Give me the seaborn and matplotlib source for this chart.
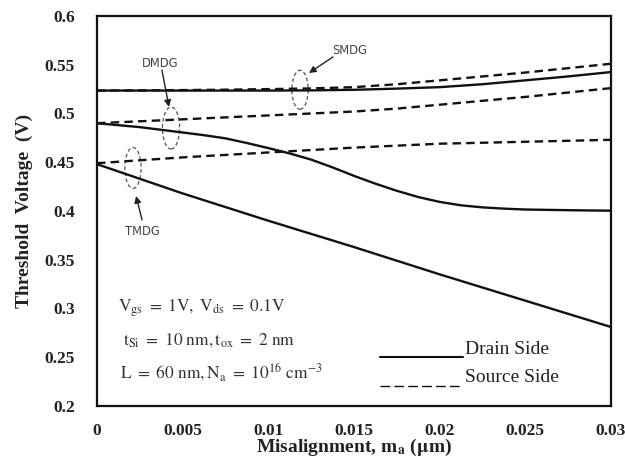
import numpy as np
import pandas as pd
import matplotlib
matplotlib.use("Agg")
import matplotlib.pyplot as plt
from matplotlib.patches import Ellipse
from matplotlib.lines import Line2D
import seaborn as sns

# Misalignment (um) sample points
ma_coarse = [0.0, 0.0025, 0.005, 0.0075, 0.01, 0.0125, 0.015,
             0.0175, 0.02, 0.0225, 0.025, 0.0275, 0.03]
ma_fine = [0.0, 0.0025, 0.005, 0.00625, 0.0075, 0.00875, 0.01, 0.01125, 0.0125,
           0.01375, 0.015, 0.01625, 0.0175, 0.01875, 0.02, 0.02125,
           0.0225, 0.02375, 0.025, 0.0275, 0.03]

# Threshold voltage (V) for each device, drain-side and source-side misalignment
smdg_drain = [0.5235, 0.5235, 0.5235, 0.5235, 0.5235, 0.5237, 0.5243,
              0.5255, 0.527, 0.530, 0.534, 0.538, 0.5425]
smdg_source = [0.5235, 0.5237, 0.524, 0.5244, 0.525, 0.5257, 0.527,
               0.530, 0.534, 0.538, 0.542, 0.5465, 0.551]
dmdg_drain = [0.490, 0.486, 0.4805, 0.4777, 0.4745, 0.4697, 0.4645, 0.4590, 0.4527,
              0.4447, 0.436, 0.428, 0.4207, 0.4143, 0.4093, 0.4058,
              0.4037, 0.4024, 0.4015, 0.4008, 0.4003]
dmdg_source = [0.490, 0.492, 0.494, 0.496, 0.498, 0.500, 0.502,
               0.505, 0.509, 0.513, 0.517, 0.5215, 0.526]
tmdg_drain = [0.448, 0.433, 0.418, 0.404, 0.390, 0.3765, 0.363,
              0.349, 0.335, 0.3215, 0.308, 0.2945, 0.281]
tmdg_source = [0.449, 0.452, 0.455, 0.4575, 0.460, 0.4625, 0.465,
               0.467, 0.469, 0.470, 0.471, 0.472, 0.473]

series = {
    ("SMDG", "Drain Side"): (ma_coarse, smdg_drain),
    ("SMDG", "Source Side"): (ma_coarse, smdg_source),
    ("DMDG", "Drain Side"): (ma_fine, dmdg_drain),
    ("DMDG", "Source Side"): (ma_coarse, dmdg_source),
    ("TMDG", "Drain Side"): (ma_coarse, tmdg_drain),
    ("TMDG", "Source Side"): (ma_coarse, tmdg_source),
}
rows = []
for (dev, side), (xs, vals) in series.items():
    for m, v in zip(xs, vals):
        rows.append({"ma": m, "Vth": v, "device": dev, "side": side})
df = pd.DataFrame(rows)

sns.set_style("white")
plt.rcParams["mathtext.fontset"] = "stix"

fig = plt.figure(figsize=(6.25, 4.66), dpi=100)
ax = fig.add_axes([0.1552, 0.1288, 0.8224, 0.8369])

dash = (3.6, 2.2)
sns.lineplot(data=df, x="ma", y="Vth", hue="device", style="side",
             units="device", estimator=None, sort=True,
             palette={"SMDG": "#111111", "DMDG": "#111111", "TMDG": "#111111"},
             dashes={"Drain Side": "", "Source Side": dash},
             linewidth=1.7, legend=False, ax=ax)

ax.set_xlim(0, 0.03)
ax.set_ylim(0.2, 0.6)
ax.set_xticks([0, 0.005, 0.01, 0.015, 0.02, 0.025, 0.03])
ax.set_xticklabels(["0", "0.005", "0.01", "0.015", "0.02", "0.025", "0.03"])
ax.set_yticks([0.2, 0.25, 0.3, 0.35, 0.4, 0.45, 0.5, 0.55, 0.6])
ax.set_yticklabels(["0.2", "0.25", "0.3", "0.35", "0.4", "0.45", "0.5", "0.55", "0.6"])

for s in ax.spines.values():
    s.set_color("#111111")
    s.set_linewidth(1.6)
ax.tick_params(axis="both", direction="in", length=5, width=1.4,
               color="#111111", top=False, right=False)
ax.tick_params(axis="y", pad=16)
ax.tick_params(axis="x", pad=12)
for lab in ax.get_xticklabels() + ax.get_yticklabels():
    lab.set_fontfamily("Liberation Serif")
    lab.set_fontweight("bold")
    lab.set_fontsize(12.5)
    lab.set_color("#222222")

ax.set_xlabel(r"Misalignment, m$_\mathbf{a}$ ($\mathbf{\mu}$m)", fontfamily="Liberation Serif",
              fontweight="bold", fontsize=14, color="#222222", labelpad=-1)
ax.set_ylabel("Threshold  Voltage  (V)", fontfamily="Liberation Serif",
              fontweight="bold", fontsize=14, color="#222222", labelpad=8)

# Dashed ellipses grouping each device pair, with pointer labels
ell_style = dict(fill=False, ls=(0, (3, 2)), lw=0.9, ec="#555555")
ax.add_patch(Ellipse((0.01185, 0.5243), 0.00095, 0.040, **ell_style))
ax.add_patch(Ellipse((0.00432, 0.4851), 0.00100, 0.043, **ell_style))
ax.add_patch(Ellipse((0.00210, 0.4441), 0.00095, 0.042, **ell_style))

lab_font = dict(family="DejaVu Sans", size=8.3, color="#444444")
arrow = dict(arrowstyle="-|>", lw=1.0, color="#222222", mutation_scale=10,
             shrinkA=0, shrinkB=0)
ax.text(0.01477, 0.5641, "SMDG", ha="center", va="center", **lab_font)
ax.annotate("", xy=(0.01237, 0.5415), xytext=(0.01377, 0.5580), arrowprops=arrow)
ax.text(0.00368, 0.5508, "DMDG", ha="center", va="center", **lab_font)
ax.annotate("", xy=(0.00420, 0.5067), xytext=(0.00379, 0.5446), arrowprops=arrow)
ax.text(0.00263, 0.3785, "TMDG", ha="center", va="center", **lab_font)
ax.annotate("", xy=(0.00228, 0.4154), xytext=(0.00263, 0.3908), arrowprops=arrow)

# Device parameters
par = dict(transform=ax.transAxes, ha="left", va="center", fontsize=12.5, color="#333333")
ax.text(0.041, 0.252, r"$\mathrm{V_{gs}\ =\ 1V,\ V_{ds}\ =\ 0.1V}$", **par)
ax.text(0.050, 0.169, r"$\mathrm{t_{Si}\ =\ 10\ nm, t_{ox}\ =\ 2\ nm}$", **par)
ax.text(0.045, 0.087, r"$\mathrm{L\ =\ 60\ nm, N_{a}\ =\ 10^{16}\ cm^{-3}}$", **par)

# Line-style key
ax.add_line(Line2D([0.5506, 0.712], [0.1256, 0.1256], transform=ax.transAxes,
                   color="#111111", lw=1.5))
ax.add_line(Line2D([0.5506, 0.712], [0.0513, 0.0513], transform=ax.transAxes,
                   color="#111111", lw=1.0, ls=(0, (7, 3))))
key = dict(transform=ax.transAxes, ha="left", va="center", fontsize=14,
           fontfamily="Liberation Serif", color="#222222")
ax.text(0.716, 0.145, "Drain Side", **key)
ax.text(0.716, 0.073, "Source Side", **key)

fig.savefig("out.png", dpi=100)
